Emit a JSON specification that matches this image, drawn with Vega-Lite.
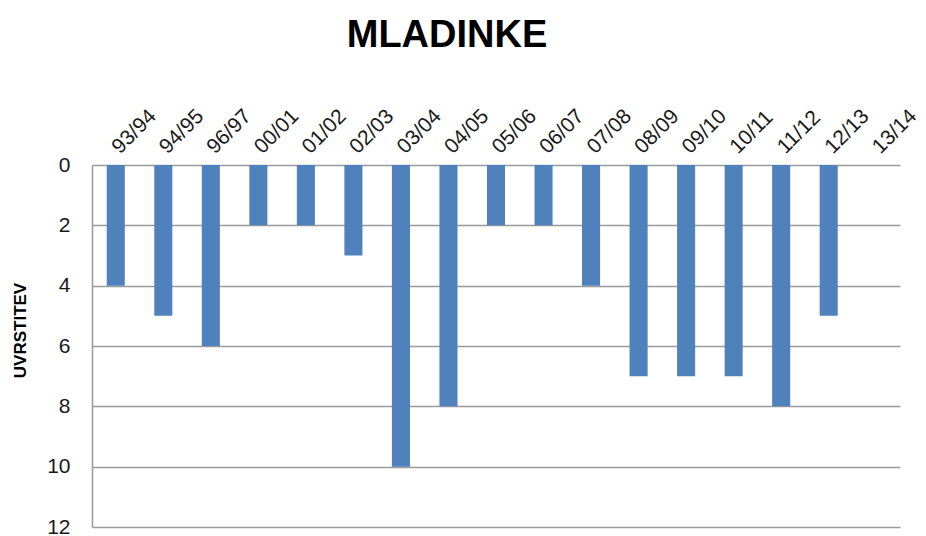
{
  "$schema": "https://vega.github.io/schema/vega-lite/v6.json",
  "autosize": {"type": "none"},
  "padding": {"left": 92, "top": 165, "right": 26, "bottom": 9},
  "width": 808,
  "height": 362,
  "background": "white",
  "title": {
    "text": "MLADINKE",
    "font": "Liberation Sans",
    "fontSize": 38,
    "fontWeight": "bold",
    "color": "#000000",
    "anchor": "middle",
    "dx": -49,
    "offset": 50
  },
  "data": {
    "values": [
      {"season": "93/94", "place": 4},
      {"season": "94/95", "place": 5},
      {"season": "96/97", "place": 6},
      {"season": "00/01", "place": 2},
      {"season": "01/02", "place": 2},
      {"season": "02/03", "place": 3},
      {"season": "03/04", "place": 10},
      {"season": "04/05", "place": 8},
      {"season": "05/06", "place": 2},
      {"season": "06/07", "place": 2},
      {"season": "07/08", "place": 4},
      {"season": "08/09", "place": 7},
      {"season": "09/10", "place": 7},
      {"season": "10/11", "place": 7},
      {"season": "11/12", "place": 8},
      {"season": "12/13", "place": 5},
      {"season": "13/14", "place": null}
    ]
  },
  "mark": {"type": "bar", "color": "#4F81BD"},
  "encoding": {
    "x": {
      "field": "season",
      "type": "nominal",
      "sort": null,
      "scale": {
        "domain": ["93/94", "94/95", "96/97", "00/01", "01/02", "02/03", "03/04", "04/05", "05/06", "06/07", "07/08", "08/09", "09/10", "10/11", "11/12", "12/13", "13/14"],
        "paddingInner": 0.62,
        "paddingOuter": 0.31
      },
      "axis": {
        "orient": "top",
        "title": null,
        "labelAngle": -45,
        "labelAlign": "left",
        "labelBaseline": "middle",
        "labelFont": "Liberation Sans",
        "labelFontSize": 21,
        "labelColor": "#1a1a1a",
        "labelPadding": 15,
        "ticks": false,
        "domain": false
      }
    },
    "y": {
      "field": "place",
      "type": "quantitative",
      "scale": {"domain": [0, 12], "reverse": true, "nice": false},
      "axis": {
        "values": [0, 2, 4, 6, 8, 10, 12],
        "title": "UVRSTITEV",
        "titleFont": "Liberation Sans",
        "titleFontSize": 17,
        "titleFontWeight": "bold",
        "titleColor": "#000000",
        "titleX": -72,
        "titleY": 165,
        "titleAngle": -90,
        "titleAlign": "center",
        "titleBaseline": "middle",
        "labelFont": "Liberation Sans",
        "labelFontSize": 21,
        "labelColor": "#1a1a1a",
        "labelPadding": 22,
        "ticks": false,
        "domain": true,
        "domainColor": "#9a9a9a",
        "domainWidth": 1.5,
        "grid": true,
        "gridColor": "#9a9a9a",
        "gridWidth": 1.5
      }
    }
  },
  "config": {
    "view": {"stroke": null}
  }
}
